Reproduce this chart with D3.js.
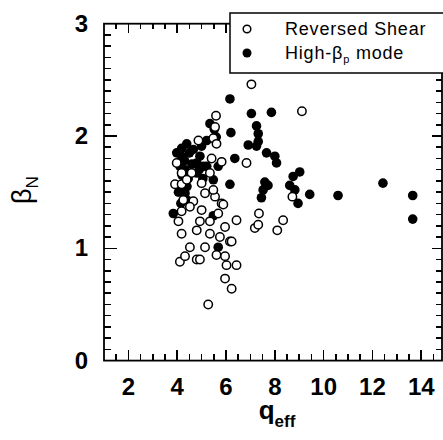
<!DOCTYPE html>
<html>
<head>
<meta charset="utf-8">
<script src="https://cdn.jsdelivr.net/npm/d3@7"></script>
<style>
	body { margin: 0; background: #fff; }
	svg { display: block; font-family: "Liberation Sans", Arial, Helvetica, sans-serif; }
</style>
</head>
<body>
<svg id="chart"></svg>
<script>
const width = 443;
const height = 440;

// Reversed Shear (open circles): [q_eff, beta_N]
const reversedShear = [
	[7.04, 2.46], [9.11, 2.22], [5.59, 2.18], [5.55, 2.08], [4.87, 1.96], [5.48, 1.98],
	[5.61, 1.93], [6.84, 1.76], [5.82, 1.77], [5.41, 1.80], [3.98, 1.76], [4.18, 1.67],
	[4.59, 1.67], [3.91, 1.57], [4.18, 1.57], [4.39, 1.61], [5.00, 1.58], [5.34, 1.67],
	[5.14, 1.49], [5.55, 1.46], [5.48, 1.52], [4.25, 1.43], [4.66, 1.42], [4.52, 1.37],
	[4.18, 1.33], [5.00, 1.34], [5.68, 1.31], [5.82, 1.40], [4.05, 1.24], [4.93, 1.24],
	[5.34, 1.24], [5.96, 1.19], [6.43, 1.25], [7.35, 1.31], [7.18, 1.18], [7.32, 1.21],
	[8.10, 1.16], [8.34, 1.25], [4.18, 1.13], [4.80, 1.16], [5.34, 1.13], [5.75, 1.10],
	[6.16, 1.06], [4.52, 1.01], [5.14, 1.01], [5.61, 0.94], [6.23, 1.06], [4.11, 0.88],
	[4.32, 0.93], [4.80, 0.90], [4.93, 0.90], [5.96, 0.93], [6.02, 0.85], [6.43, 0.85],
	[5.96, 0.73], [6.23, 0.64], [5.27, 0.50], [8.72, 1.46], [5.89, 1.39]
];

// High-beta_p mode (filled circles): [q_eff, beta_N]
const highBetaP = [
	[6.16, 2.33], [7.04, 2.20], [7.86, 2.21], [5.34, 2.11], [6.20, 2.03], [7.25, 2.09],
	[7.32, 2.02], [6.91, 1.92], [7.32, 1.95], [7.25, 1.91], [6.36, 1.80], [7.66, 1.85],
	[8.00, 1.82], [8.07, 1.76], [7.59, 1.59], [7.72, 1.56], [7.52, 1.52], [7.45, 1.45],
	[6.16, 1.57], [5.68, 1.73], [9.02, 1.68], [8.75, 1.64], [8.61, 1.56], [8.82, 1.52],
	[8.95, 1.40], [9.43, 1.48], [10.59, 1.47], [12.43, 1.58], [13.65, 1.47], [13.65, 1.26],
	[3.84, 1.31], [5.48, 1.29], [5.68, 1.01], [4.18, 1.89], [4.39, 1.93], [4.18, 1.82],
	[4.66, 1.88], [4.80, 1.76], [4.93, 1.82], [5.07, 1.73], [4.32, 1.49], [4.25, 1.55],
	[5.21, 1.96], [5.00, 1.91], [5.48, 1.61], [3.98, 1.85], [4.11, 1.73], [4.39, 1.43],
	[4.32, 1.70], [4.80, 1.67], [5.21, 1.73], [4.30, 1.78], [4.50, 1.85], [4.45, 1.62],
	[4.60, 1.75], [4.20, 1.65], [4.05, 1.50], [4.15, 1.40], [4.90, 1.70], [4.40, 1.55],
	[5.05, 1.62], [5.60, 1.99], [5.52, 2.06]
];

const xMajor = [2, 4, 6, 8, 10, 12, 14];
const yMajor = [0, 1, 2, 3];
const legendLabels = ["Reversed Shear", "High-"];

const svg = d3.select("#chart")
	.attr("width", width)
	.attr("height", height);

const x = d3.scaleLinear().domain([1, 14.85]).range([104, 442]);
const y = d3.scaleLinear().domain([0, 3]).range([360.6, 23.7]);

const plotL = x(1), plotR = x(14.85), plotB = y(0), plotT = y(3);

// tick values, major ones get longer marks
const xTickVals = d3.range(3, 30).map(i => i / 2);
const yTickVals = d3.range(1, 30).map(i => i / 10);

// frame
svg.append("rect")
	.attr("x", plotL)
	.attr("y", plotT)
	.attr("width", plotR - plotL)
	.attr("height", plotB - plotT)
	.attr("fill", "none")
	.attr("stroke", "#000")
	.attr("stroke-width", 1.8);

// all tick marks as one path, drawn inward
const tp = d3.path();
for (const v of xTickVals) {
	const len = xMajor.includes(v) ? 11 : 7;
	tp.moveTo(x(v), plotB); tp.lineTo(x(v), plotB - len);
	tp.moveTo(x(v), plotT); tp.lineTo(x(v), plotT + len * 0.8);
}
for (const v of yTickVals) {
	const len = Number.isInteger(v) ? 13 : 7;
	tp.moveTo(plotL, y(v)); tp.lineTo(plotL + len, y(v));
	tp.moveTo(plotR, y(v)); tp.lineTo(plotR - len * 0.8, y(v));
}
svg.append("path")
	.attr("d", tp.toString())
	.attr("fill", "none")
	.attr("stroke", "#000")
	.attr("stroke-width", 1.6)
	.attr("shape-rendering", "crispEdges");

// tick labels
svg.append("g")
	.selectAll("text")
	.data(xMajor)
	.join("text")
	.attr("x", d => x(d))
	.attr("y", 395)
	.attr("text-anchor", "middle")
	.attr("font-size", 24)
	.attr("font-weight", "bold")
	.text(d => d);

svg.append("g")
	.selectAll("text")
	.data(yMajor)
	.join("text")
	.attr("x", 88)
	.attr("y", d => y(d) + 8)
	.attr("text-anchor", "end")
	.attr("font-size", 24)
	.attr("font-weight", "bold")
	.text(d => d);

// axis titles
const xTitle = svg.append("text")
	.attr("x", 277)
	.attr("y", 419)
	.attr("text-anchor", "middle")
	.attr("font-weight", "bold")
	.attr("font-size", 26);
xTitle.append("tspan").text("q");
xTitle.append("tspan").attr("font-size", 17).attr("dy", 8).text("eff");

const yTitle = svg.append("text")
	.attr("transform", "translate(31,190) rotate(-90)")
	.attr("text-anchor", "middle")
	.attr("font-size", 27);
yTitle.append("tspan").text("\u03b2");
yTitle.append("tspan").attr("font-size", 17).attr("dy", 7).text("N");

// points
const pts = svg.append("g");
pts.selectAll("circle.hb")
	.data(highBetaP)
	.join("circle")
	.attr("class", "hb")
	.attr("cx", d => x(d[0]))
	.attr("cy", d => y(d[1]))
	.attr("r", 4.8)
	.attr("fill", "#000");

pts.selectAll("circle.rs")
	.data(reversedShear)
	.join("circle")
	.attr("class", "rs")
	.attr("cx", d => x(d[0]))
	.attr("cy", d => y(d[1]))
	.attr("r", 4.2)
	.attr("fill", "#fff")
	.attr("stroke", "#000")
	.attr("stroke-width", 1.5);

// legend
const lg = svg.append("g");
lg.append("rect")
	.attr("x", 230)
	.attr("y", 13)
	.attr("width", 230)
	.attr("height", 60)
	.attr("fill", "#fff")
	.attr("stroke", "#000")
	.attr("stroke-width", 1.5);
lg.append("circle")
	.attr("cx", 247).attr("cy", 29).attr("r", 3.8)
	.attr("fill", "#fff").attr("stroke", "#000").attr("stroke-width", 1.5);
lg.append("circle")
	.attr("cx", 247).attr("cy", 53).attr("r", 4.5)
	.attr("fill", "#000");
lg.append("text")
	.attr("x", 285).attr("y", 35)
	.attr("font-size", 18)
	.attr("letter-spacing", 0.8)
	.text(legendLabels[0]);
const lt = lg.append("text")
	.attr("x", 285).attr("y", 59)
	.attr("font-size", 18)
	.attr("letter-spacing", 0.8);
lt.append("tspan").text(legendLabels[1]);
lt.append("tspan").text("\u03b2");
lt.append("tspan").attr("font-size", 11).attr("dy", 4).text("p");
lt.append("tspan").attr("dy", -4).text(" mode");
</script>
</body>
</html>
